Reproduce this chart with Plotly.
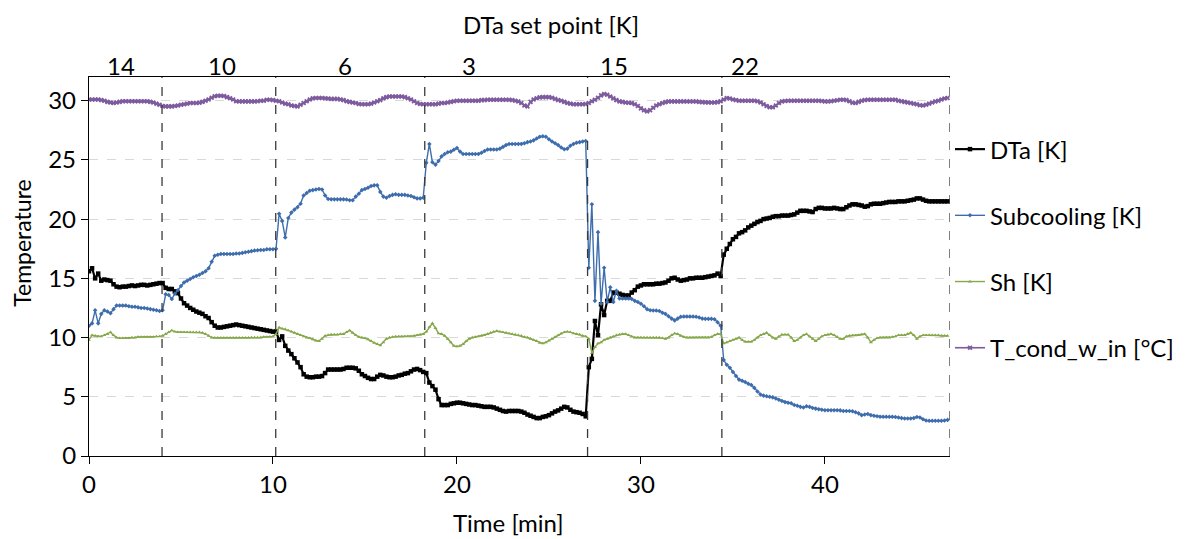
import plotly.graph_objects as go

# Logged every 10 s; time axis in minutes
SAMPLE_S = 10

dta_k = [
    15.6, 15.85, 15.0, 15.4, 14.8, 14.9, 14.85, 14.8, 14.5, 14.3, 14.25, 14.3,
    14.3, 14.35, 14.4, 14.35, 14.4, 14.45, 14.45, 14.4, 14.45, 14.5, 14.55, 14.6,
    14.6, 14.2, 14.1, 14.1, 13.9, 13.75, 13.3, 12.9, 12.7, 12.5, 12.35, 12.2,
    12.1, 12.0, 11.8, 11.65, 11.3, 11.0, 10.85, 10.85, 10.9, 10.95, 11.0, 11.05,
    11.1, 11.05, 11.0, 10.95, 10.9, 10.85, 10.8, 10.75, 10.7, 10.65, 10.6, 10.55,
    10.5, 10.5, 9.8, 10.1, 9.3, 8.9, 8.6, 8.25, 7.9, 7.5, 6.9, 6.7,
    6.65, 6.65, 6.7, 6.7, 6.75, 7.0, 7.3, 7.3, 7.3, 7.3, 7.3, 7.35,
    7.45, 7.45, 7.45, 7.4, 7.2, 6.9, 6.75, 6.6, 6.5, 6.5, 6.7, 6.85,
    6.8, 6.7, 6.65, 6.65, 6.7, 6.8, 6.85, 6.95, 7.0, 7.15, 7.3, 7.35,
    7.25, 7.1, 7.0, 6.2, 5.9, 5.6, 4.8, 4.3, 4.3, 4.3, 4.4, 4.45,
    4.5, 4.5, 4.45, 4.4, 4.35, 4.3, 4.3, 4.25, 4.2, 4.15, 4.15, 4.15,
    4.1, 4.0, 3.9, 3.8, 3.75, 3.8, 3.8, 3.8, 3.8, 3.75, 3.65, 3.5,
    3.4, 3.3, 3.2, 3.2, 3.3, 3.35, 3.45, 3.6, 3.75, 3.85, 4.0, 4.15,
    4.1, 3.9, 3.75, 3.7, 3.65, 3.55, 3.35, 7.5, 8.2, 11.4, 10.2, 12.8,
    11.9, 13.1, 13.1, 13.8, 13.8, 13.7, 13.6, 13.55, 13.55, 13.8, 14.0, 14.3,
    14.4, 14.5, 14.5, 14.5, 14.5, 14.55, 14.55, 14.6, 14.65, 14.8, 15.0, 15.05,
    14.9, 14.8, 14.85, 14.9, 15.0, 15.0, 15.05, 15.05, 15.05, 15.1, 15.15, 15.2,
    15.25, 15.4, 15.2, 17.0, 17.5, 17.9, 18.3, 18.5, 18.8, 18.9, 19.05, 19.3,
    19.45, 19.6, 19.75, 19.85, 20.0, 20.05, 20.1, 20.2, 20.25, 20.25, 20.3, 20.3,
    20.3, 20.35, 20.4, 20.55, 20.7, 20.7, 20.7, 20.65, 20.6, 20.85, 20.95, 20.95,
    20.9, 20.9, 20.9, 20.95, 20.9, 20.85, 20.85, 21.0, 21.15, 21.25, 21.25, 21.2,
    21.15, 21.05, 21.1, 21.25, 21.3, 21.3, 21.3, 21.35, 21.4, 21.45, 21.45, 21.45,
    21.5, 21.5, 21.5, 21.55, 21.6, 21.65, 21.75, 21.75, 21.65, 21.55, 21.5, 21.5,
    21.5, 21.5, 21.5, 21.5, 21.5,
]

subcooling_k = [
    11.0, 11.2, 12.3, 11.2, 12.0, 12.3, 12.2, 12.05, 12.4, 12.7, 12.7, 12.7,
    12.7, 12.65, 12.6, 12.6, 12.55, 12.5, 12.5, 12.45, 12.4, 12.35, 12.3, 12.25,
    12.3, 13.65, 13.6, 13.25, 13.7, 14.0, 14.35, 14.65, 14.8, 14.95, 15.1, 15.2,
    15.3, 15.45, 15.6, 15.85, 16.4, 16.9, 17.0, 17.05, 17.05, 17.05, 17.05, 17.05,
    17.1, 17.1, 17.15, 17.2, 17.25, 17.3, 17.35, 17.38, 17.4, 17.4, 17.45, 17.45,
    17.45, 17.5, 20.45, 19.85, 18.45, 20.1, 20.55, 20.8, 21.0, 21.3, 22.0, 22.2,
    22.4, 22.45, 22.5, 22.55, 22.5, 22.0, 21.7, 21.67, 21.67, 21.67, 21.67, 21.67,
    21.65, 21.6, 21.6, 21.9, 22.15, 22.45, 22.55, 22.65, 22.8, 22.85, 22.85, 22.3,
    21.9, 21.8, 21.95, 22.05, 22.1, 22.05, 22.05, 22.05, 22.0, 21.95, 21.85, 21.75,
    21.75, 21.8, 24.75, 26.35, 24.8, 24.6, 24.9, 25.3, 25.5, 25.65, 25.7, 25.85,
    26.0, 25.7, 25.5, 25.5, 25.5, 25.5, 25.5, 25.5, 25.6, 25.75, 25.88, 25.88,
    25.88, 25.88, 25.95, 26.1, 26.25, 26.35, 26.35, 26.35, 26.35, 26.35, 26.4, 26.5,
    26.55, 26.65, 26.8, 26.95, 27.0, 26.95, 26.75, 26.55, 26.4, 26.25, 26.05, 25.9,
    25.95, 26.2, 26.35, 26.45, 26.5, 26.55, 26.6, 15.9, 21.25, 13.1, 18.9, 12.85,
    15.9, 13.0, 14.25, 13.0, 13.95, 13.3, 13.3, 13.3, 13.3, 13.25, 13.1, 13.0,
    12.85, 12.65, 12.4, 12.3, 12.28, 12.28, 12.25, 12.1, 12.0, 11.8, 11.6, 11.45,
    11.6, 11.75, 11.78, 11.78, 11.78, 11.78, 11.75, 11.7, 11.6, 11.58, 11.58, 11.58,
    11.55, 11.3, 11.0, 8.1, 7.7, 7.45, 7.1, 6.75, 6.45, 6.35, 6.25, 6.1,
    6.0, 5.75, 5.45, 5.2, 5.1, 5.05, 5.0, 4.95, 4.85, 4.75, 4.65, 4.55,
    4.5, 4.45, 4.3, 4.25, 4.15, 4.1, 4.2, 4.15, 4.05, 4.0, 3.95, 3.9,
    3.87, 3.87, 3.87, 3.87, 3.87, 3.85, 3.8, 3.8, 3.8, 3.78, 3.7, 3.6,
    3.45, 3.5, 3.55, 3.45, 3.4, 3.35, 3.32, 3.31, 3.31, 3.31, 3.31, 3.3,
    3.25, 3.2, 3.17, 3.17, 3.17, 3.2, 3.3, 3.25, 3.1, 3.0, 2.97, 2.97,
    2.97, 2.97, 2.97, 3.0, 3.05,
]

sh_k = [
    9.8, 10.2, 10.15, 10.1, 10.1, 10.2, 10.3, 10.45, 10.2, 10.0, 9.95, 9.95,
    9.95, 9.95, 10.0, 10.0, 10.05, 10.05, 10.05, 10.05, 10.05, 10.05, 10.1, 10.1,
    10.15, 10.3, 10.45, 10.6, 10.5, 10.45, 10.45, 10.45, 10.45, 10.45, 10.45, 10.45,
    10.45, 10.4, 10.3, 10.15, 10.0, 9.98, 9.98, 9.98, 9.98, 9.98, 9.98, 9.98,
    9.98, 9.98, 9.98, 9.98, 9.98, 10.0, 10.0, 10.0, 10.0, 10.05, 10.05, 10.07,
    10.1, 10.3, 10.85, 10.75, 10.7, 10.6, 10.5, 10.4, 10.3, 10.2, 10.1, 10.0,
    9.95, 9.85, 9.75, 9.7, 9.9, 10.15, 10.2, 10.25, 10.25, 10.25, 10.3, 10.3,
    10.45, 10.6, 10.4, 10.2, 10.05, 10.0, 9.95, 9.85, 9.7, 9.55, 9.45, 9.35,
    9.6, 9.9, 10.0, 10.05, 10.1, 10.1, 10.1, 10.1, 10.1, 10.1, 10.15, 10.2,
    10.25, 10.3, 10.5, 10.9, 11.2, 10.8, 10.35, 10.3, 10.15, 9.9, 9.6, 9.3,
    9.25, 9.3, 9.45, 9.7, 9.9, 10.0, 10.05, 10.1, 10.15, 10.2, 10.3, 10.4,
    10.5, 10.55, 10.5, 10.45, 10.4, 10.35, 10.3, 10.25, 10.2, 10.15, 10.05, 10.0,
    9.9, 9.8, 9.7, 9.55, 9.5, 9.6, 9.75, 9.9, 10.05, 10.2, 10.35, 10.45,
    10.5, 10.45, 10.35, 10.3, 10.25, 10.15, 10.1, 9.9, 8.7, 9.2, 9.5, 9.6,
    9.8, 9.9, 10.0, 10.1, 10.2, 10.25, 10.3, 10.3, 10.2, 10.1, 10.0, 10.0,
    10.0, 10.0, 10.0, 10.0, 10.0, 10.0, 10.0, 9.95, 9.9, 10.0, 10.2, 10.35,
    10.3, 10.15, 10.05, 10.0, 10.0, 10.0, 10.0, 10.0, 10.0, 10.0, 10.0, 10.05,
    10.2, 10.3, 10.3, 9.5, 9.6, 9.7, 9.8, 9.9, 10.0, 9.8, 9.65, 9.65,
    9.65, 9.8, 10.0, 10.2, 10.3, 10.4, 10.2, 10.0, 9.9, 10.1, 10.25, 10.25,
    10.25, 10.0, 9.7, 9.8, 10.0, 10.2, 10.3, 10.1, 9.9, 9.7, 9.9, 10.1,
    10.2, 10.25, 10.3, 10.2, 10.05, 9.9, 9.9, 10.1, 10.15, 10.18, 10.18, 10.2,
    10.25, 10.3, 10.0, 9.6, 9.8, 9.95, 10.0, 10.0, 10.0, 10.0, 10.05, 10.1,
    10.2, 10.2, 10.2, 10.3, 10.4, 10.2, 9.9, 10.1, 10.2, 10.2, 10.2, 10.2,
    10.2, 10.2, 10.15, 10.15, 10.15,
]

t_cond_w_in_c = [
    30.1, 30.1, 30.1, 30.1, 30.05, 30.0, 29.9, 29.85, 29.8, 29.85, 29.9, 29.95,
    29.95, 29.95, 29.95, 29.95, 29.95, 29.95, 29.95, 29.95, 29.9, 29.85, 29.75, 29.65,
    29.55, 29.52, 29.52, 29.52, 29.55, 29.6, 29.66, 29.7, 29.75, 29.8, 29.8, 29.8,
    29.82, 29.9, 30.0, 30.1, 30.25, 30.38, 30.42, 30.42, 30.4, 30.3, 30.2, 30.1,
    29.95, 29.94, 29.94, 29.94, 29.94, 29.94, 29.94, 29.95, 30.0, 30.0, 30.08, 30.08,
    30.05, 30.0, 29.95, 29.85, 29.75, 29.7, 29.6, 29.55, 29.52, 29.65, 29.8, 29.95,
    30.1, 30.2, 30.22, 30.22, 30.22, 30.2, 30.18, 30.15, 30.15, 30.15, 30.1, 30.05,
    29.95, 29.9, 29.85, 29.8, 29.72, 29.7, 29.7, 29.7, 29.75, 29.85, 29.95, 30.05,
    30.2, 30.3, 30.35, 30.36, 30.36, 30.36, 30.35, 30.3, 30.2, 30.1, 29.95, 29.8,
    29.72, 29.7, 29.7, 29.7, 29.7, 29.7, 29.75, 29.8, 29.8, 29.85, 29.9, 29.95,
    30.0, 30.0, 30.0, 30.0, 30.0, 30.0, 30.0, 30.0, 30.05, 30.05, 30.08, 30.08,
    30.08, 30.08, 30.08, 30.08, 30.08, 30.08, 30.05, 30.0, 29.94, 29.8, 29.6, 29.52,
    29.9, 30.1, 30.2, 30.28, 30.3, 30.3, 30.3, 30.25, 30.15, 30.05, 30.0, 29.9,
    29.8, 29.75, 29.7, 29.7, 29.7, 29.7, 29.72, 29.8, 29.95, 30.08, 30.25, 30.45,
    30.56, 30.5, 30.35, 30.2, 30.05, 29.94, 29.9, 29.85, 29.82, 29.8, 29.7, 29.55,
    29.35, 29.2, 29.1, 29.2, 29.4, 29.6, 29.7, 29.8, 29.88, 29.94, 29.94, 29.94,
    29.94, 29.94, 29.94, 29.94, 29.94, 29.94, 29.94, 29.9, 29.88, 29.86, 29.85, 29.85,
    29.85, 29.88, 29.95, 30.1, 30.22, 30.18, 30.1, 30.05, 30.0, 30.0, 30.0, 30.0,
    30.0, 30.0, 29.95, 29.85, 29.7, 29.55, 29.45, 29.44, 29.6, 29.8, 29.94, 29.97,
    30.0, 30.0, 30.0, 30.0, 30.0, 30.0, 30.0, 30.0, 30.0, 30.0, 30.0, 29.97,
    29.94, 29.94, 29.96, 30.0, 30.04, 30.08, 30.08, 30.05, 29.95, 29.82, 29.8, 29.9,
    30.0, 30.05, 30.08, 30.08, 30.08, 30.08, 30.08, 30.08, 30.08, 30.08, 30.08, 30.08,
    30.0, 29.95, 29.9, 29.85, 29.8, 29.75, 29.7, 29.62, 29.6, 29.65, 29.75, 29.85,
    29.94, 30.0, 30.1, 30.18, 30.22,
]

# Set point phases: change times (min), labels and where each label sits
setpoint_change_min = [3.97, 10.15, 18.25, 27.1, 34.4, 46.8]
setpoint_labels = ["14", "10", "6", "3", "15", "22"]
setpoint_label_min = [1.74, 7.23, 13.91, 20.65, 28.53, 35.68]

x_ticks = [0, 10, 20, 30, 40]
y_ticks = [0, 5, 10, 15, 20, 25, 30]

time_min = [i * SAMPLE_S / 60 for i in range(len(dta_k))]

FONT = "Lato"
FS = 24
series = [
    ("DTa [K]", dta_k, "#000000", 2.2, "square", 4.5),
    ("Subcooling [K]", subcooling_k, "#3E6DAD", 1.4, "diamond", 3.5),
    ("Sh [K]", sh_k, "#86A84A", 1.4, "triangle-up", 3.5),
    ("T_cond_w_in [°C]", t_cond_w_in_c, "#7D5B9E", 1.6, "x", 4.5),
]

fig = go.Figure()
for i, (name, ys, color, lw, sym, ms) in enumerate(series):
    fig.add_trace(go.Scatter(
        x=time_min, y=ys, name=name, mode="lines+markers",
        line=dict(color=color, width=lw),
        marker=dict(symbol=sym, size=ms, color=color, line=dict(width=0)),
        legendgroup=f"g{i}",
    ))

# Dashed boundaries between set point phases
shapes = []
for xc in setpoint_change_min:
    shapes.append(dict(type="line", xref="x", yref="paper", x0=xc, x1=xc, y0=0, y1=1,
                       line=dict(color="#3A3A3A", width=1.3, dash="dash"), layer="above"))

# Set point values written above each phase, plus the group title
annotations = [
    dict(text=lab, xref="x", yref="paper", x=xm, y=1.0, yanchor="middle",
         yshift=12, showarrow=False, font=dict(family=FONT, size=FS))
    for lab, xm in zip(setpoint_labels, setpoint_label_min)
]
annotations.append(dict(text="DTa set point [K]", xref="x", yref="paper",
                        x=25.1, y=1.0, yanchor="middle", yshift=53, showarrow=False,
                        font=dict(family=FONT, size=FS)))
# Axis titles
annotations.append(dict(text="Temperature", xref="paper", yref="paper",
                        x=0, xanchor="center", xshift=-67, y=0.56, yanchor="middle",
                        textangle=-90, showarrow=False,
                        font=dict(family=FONT, size=FS - 1)))
annotations.append(dict(text="Time [min]", xref="paper", yref="paper",
                        x=0.487, xanchor="center", y=0, yanchor="middle", yshift=-66,
                        showarrow=False, font=dict(family=FONT, size=FS)))

fig.update_layout(
    width=1191, height=539,
    margin=dict(l=89, r=241, t=77, b=83),
    paper_bgcolor="white", plot_bgcolor="white",
    font=dict(family=FONT, size=FS, color="#000000"),
    shapes=shapes,
    annotations=annotations,
    showlegend=True,
    legend=dict(x=1.0, xanchor="left", y=0.868, yanchor="top",
                font=dict(family=FONT, size=FS), tracegroupgap=32,
                bgcolor="rgba(0,0,0,0)", itemwidth=30),
    xaxis=dict(range=[0, 46.8], tickvals=x_ticks, showgrid=False, zeroline=False,
               showline=True, mirror=True, linecolor="#000000", linewidth=1.3,
               ticks="outside", ticklen=7, tickcolor="#000000", automargin=False),
    yaxis=dict(range=[0, 32], tickvals=y_ticks, showgrid=True, gridcolor="#D9D9D9",
               griddash="dash", gridwidth=1, zeroline=False,
               showline=True, linecolor="#000000", linewidth=1.3,
               ticks="outside", ticklen=7, tickcolor="#000000", automargin=False),
)

fig.write_html("out.html")
